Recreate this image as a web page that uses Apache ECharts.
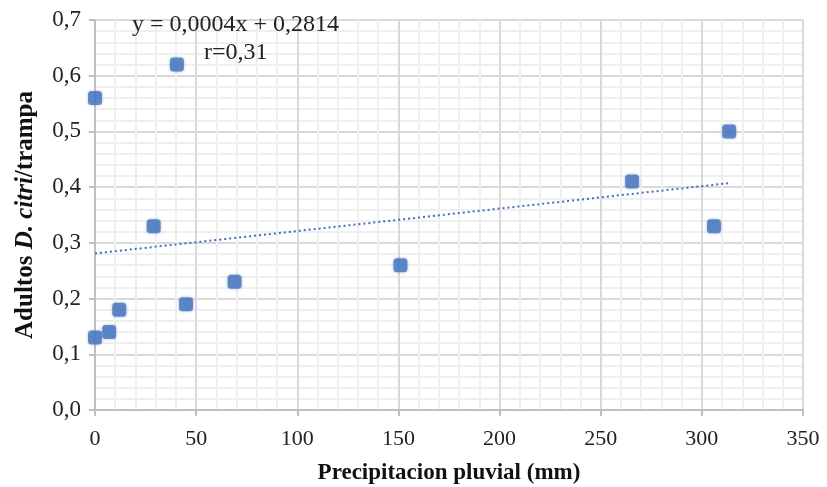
<!DOCTYPE html>
<html lang="es">
<head>
    <meta charset="UTF-8">
    <title>Adultos D. citri / trampa vs precipitacion</title>
    <script src="https://cdn.jsdelivr.net/npm/echarts@6.0.0/dist/echarts.min.js"></script>
    <style>
        html, body { margin: 0; padding: 0; background: #fff; }
        #chart { width: 827px; height: 487px; }
    </style>
</head>
<body>
<div id="chart"></div>
<script>
    // valores
    var precipitacion = [0, 0, 7, 12, 29, 40.5, 45, 69, 151, 265.5, 306, 313.5];
    var adultos = [0.13, 0.56, 0.14, 0.18, 0.33, 0.62, 0.19, 0.23, 0.26, 0.41, 0.33, 0.50];
    // extremos de la linea de tendencia
    var tendenciaX = [0, 313];
    var tendenciaY = [0.281, 0.407];
    var xTicks = [0, 50, 100, 150, 200, 250, 300, 350];
    var yTicks = [0, 0.1, 0.2, 0.3, 0.4, 0.5, 0.6, 0.7];

    var serif = '"Liberation Serif", "DejaVu Serif", serif';

    var puntos = precipitacion.map(function (x, i) { return [x, adultos[i]]; });
    var tendencia = tendenciaX.map(function (x, i) { return [x, tendenciaY[i]]; });

    var chart = echarts.init(document.getElementById('chart'));
    chart.setOption({
        animation: false,
        grid: {left: 95, right: 24, top: 20, bottom: 77, containLabel: false, outerBoundsMode: 'none'},
        xAxis: {
            type: 'value',
            min: xTicks[0],
            max: xTicks[xTicks.length - 1],
            interval: 50,
            name: 'Precipitacion pluvial (mm)',
            nameLocation: 'middle',
            nameGap: 52,
            nameTextStyle: {fontFamily: serif, fontSize: 23, fontWeight: 'bold', color: '#111'},
            axisLine: {show: true, lineStyle: {color: '#bfbfbf', width: 2}},
            axisTick: {show: true, length: 6, lineStyle: {color: '#bfbfbf', width: 2}},
            axisLabel: {fontFamily: serif, fontSize: 22, color: '#222', margin: 18},
            splitLine: {show: true, lineStyle: {color: '#d9d9d9', width: 2}},
            minorTick: {show: false, splitNumber: 5},
            minorSplitLine: {show: true, lineStyle: {color: '#efefef', width: 2}}
        },
        yAxis: {
            type: 'value',
            min: yTicks[0],
            max: yTicks[yTicks.length - 1],
            interval: 0.1,
            name: '{a|Adultos }{b|D. citri}{a|/trampa}',
            nameLocation: 'middle',
            nameGap: 57,
            nameRotate: 90,
            nameTextStyle: {
                rich: {
                    a: {fontFamily: serif, fontSize: 25, fontWeight: 'bold', color: '#111'},
                    b: {fontFamily: serif, fontSize: 25, fontWeight: 'bold', fontStyle: 'italic', color: '#111'}
                }
            },
            axisLine: {show: true, lineStyle: {color: '#bfbfbf', width: 2}},
            axisTick: {show: true, length: 6, lineStyle: {color: '#bfbfbf', width: 2}},
            axisLabel: {
                fontFamily: serif, fontSize: 23, color: '#222', margin: 14,
                formatter: function (v) { return v.toFixed(1).replace('.', ','); }
            },
            splitLine: {show: true, lineStyle: {color: '#d9d9d9', width: 2}},
            minorTick: {show: false, splitNumber: 5},
            minorSplitLine: {show: true, lineStyle: {color: '#efefef', width: 2}}
        },
        graphic: [
            {
                type: 'text', left: 132, top: 13, z: 100,
                style: {text: 'y = 0,0004x + 0,2814', font: '24px ' + serif, fill: '#222'}
            },
            {
                type: 'text', left: 204, top: 41, z: 100,
                style: {text: 'r=0,31', font: '24px ' + serif, fill: '#222'}
            }
        ],
        series: [
            {
                name: 'tendencia',
                type: 'line',
                data: tendencia,
                symbol: 'none',
                lineStyle: {color: '#3f6fbf', width: 2, type: [2, 3]},
                z: 2
            },
            {
                name: 'adultos',
                type: 'scatter',
                data: puntos,
                symbol: 'roundRect',
                symbolSize: 14,
                itemStyle: {color: '#4775bd', shadowBlur: 3, shadowColor: 'rgba(68,114,196,0.6)'},
                z: 3
            }
        ]
    });
</script>
</body>
</html>
